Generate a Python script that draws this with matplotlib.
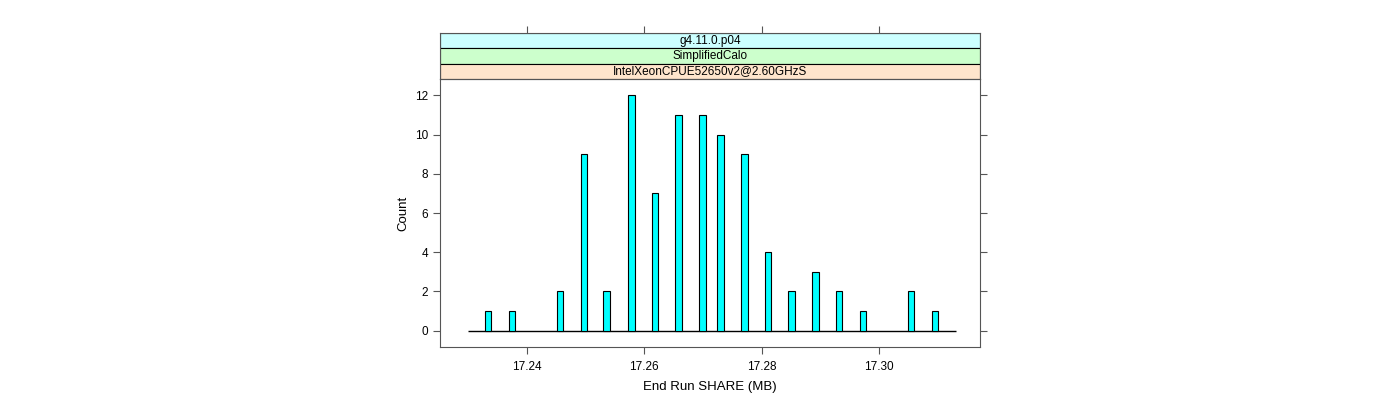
import matplotlib
matplotlib.use("Agg")
from matplotlib import pyplot as plt
from matplotlib.patches import Rectangle

plt.rcParams['font.family'] = ['Liberation Sans', 'DejaVu Sans']

# datos del histograma (End Run SHARE en MB)
valores = [17.2334, 17.2375, 17.2456, 17.2497, 17.2536, 17.2578, 17.2618, 17.2658,
           17.2699, 17.2730, 17.2771, 17.2811, 17.2851, 17.2892, 17.2932, 17.2973,
           17.3054, 17.3095]
cuentas = [1, 1, 2, 9, 2, 12, 7, 11, 11, 10, 9, 4, 2, 3, 2, 1, 2, 1]
xticks = [17.24, 17.26, 17.28, 17.30]
yticks = [0, 2, 4, 6, 8, 10, 12]
tiras = ['g4.11.0.p04', 'SimplifiedCalo', 'IntelXeonCPUE52650v2@2.60GHzS']
colores_tiras = ['#ccffff', '#ccffcc', '#ffe5cc']

xmin, xmax = 17.2252, 17.3172
borde = '#555555'

fig = plt.figure(figsize=(14, 4), dpi=100)
ax = fig.add_axes([0.3143, 0.1325, 0.3857, 0.67])
ax.bar(valores, cuentas, width=0.0011, color='#00ffff', edgecolor='black', linewidth=0.8, zorder=3)
ax.hlines(0, 17.2299, 17.3131, color='black', linewidth=1, zorder=2)
ax.set_xlim(xmin, xmax)
ax.set_ylim(-0.84, 12.84)
ax.set_xticks(xticks)
ax.set_xticklabels(['%.2f' % v for v in xticks])
ax.set_yticks(yticks)
ax.tick_params(axis='both', direction='out', length=5, labelsize=8.5, color=borde)
ax.tick_params(axis='x', pad=5)
ax.tick_params(axis='y', right=True)
for s in ax.spines.values():
    s.set_color(borde)
ax.set_xlabel('End Run SHARE (MB)', fontsize=9.5, labelpad=6)
ax.set_ylabel('Count', fontsize=9.5)

# tiras de lattice
ax2 = fig.add_axes([0.3143, 0.8025, 0.3857, 0.115])
ax2.set_xlim(xmin, xmax)
ax2.set_ylim(0, 3)
for i, (t, c) in enumerate(zip(tiras, colores_tiras)):
    y0 = 2 - i
    ax2.add_patch(Rectangle((xmin, y0), xmax - xmin, 1, facecolor=c, edgecolor='black', linewidth=0.8))
    ax2.text((xmin + xmax) / 2, y0 + 0.5, t, ha='center', va='center', fontsize=8.5)
ax2.set_xticks(xticks)
ax2.set_yticks([])
ax2.tick_params(axis='x', top=True, bottom=False, labeltop=False, labelbottom=False,
                direction='out', length=5, color=borde)
for s in ax2.spines.values():
    s.set_color(borde)

plt.savefig('out.png', dpi=100)
